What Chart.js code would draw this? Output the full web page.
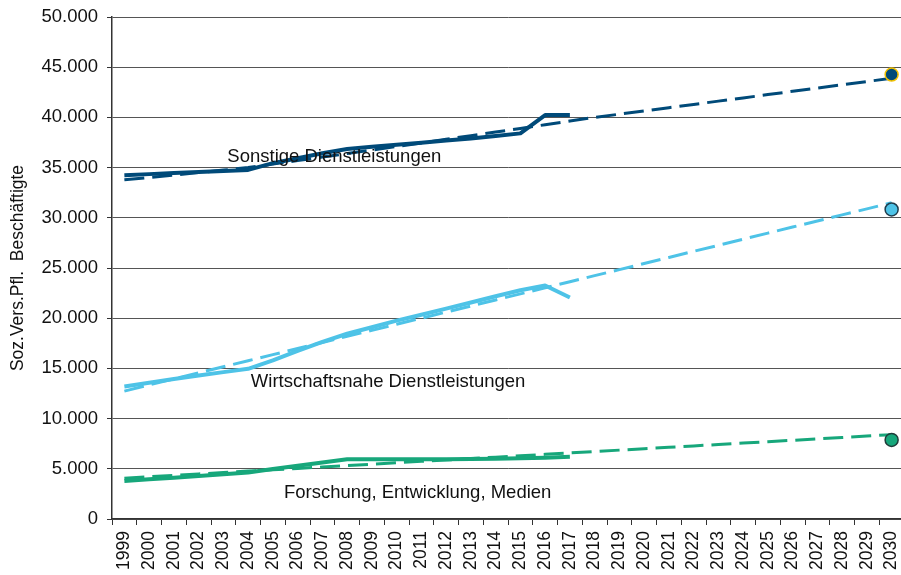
<!DOCTYPE html>
<html lang="de">
<head>
<meta charset="utf-8">
<title>Soz.Vers.Pfl. Beschäftigte</title>
<script src="https://cdn.jsdelivr.net/npm/chart.js@4/dist/chart.umd.min.js"></script>
<style>
  html, body { margin: 0; padding: 0; background: #fff; overflow: hidden; }
  #chart { display: block; }
</style>
</head>
<body>
<canvas id="chart" width="912" height="575"></canvas>
<script>
const years = ['1999', '2000', '2001', '2002', '2003', '2004', '2005', '2006', '2007', '2008',
    '2009', '2010', '2011', '2012', '2013', '2014', '2015', '2016', '2017', '2018', '2019',
    '2020', '2021', '2022', '2023', '2024', '2025', '2026', '2027', '2028', '2029', '2030'];

// Ist-Werte 1999-2017
const sonstigeIst = [34250, 34350, 34450, 34550, 34650, 34770, 35440, 35930, 36430, 36850,
    37080, 37280, 37480, 37710, 37910, 38140, 38410, 40230, 40230];
const wirtschaftIst = [13200, 13570, 13940, 14300, 14630, 14960, 15800, 16750, 17650, 18450,
    19100, 19760, 20350, 20950, 21560, 22190, 22780, 23250, 22060];
const forschungIst = [3780, 3950, 4120, 4290, 4460, 4630, 4970, 5300, 5630, 5960,
    5950, 5940, 5940, 5950, 5970, 6000, 6040, 6090, 6190];

// Trend 1999-2030 (gestrichelt)
const sonstigeTrend = [33780, 34020, 34260, 34500, 34750, 35000, 35350, 35700, 36050, 36400,
    36750, 37100, 37460, 37820, 38180, 38540, 38900, 39270, 39640, 40000, 40320, 40640,
    40970, 41290, 41620, 41940, 42270, 42600, 42920, 43250, 43570, 43900];
const wirtschaftTrend = [12740, 13350, 13950, 14560, 15160, 15770, 16370, 16980, 17580, 18190,
    18790, 19400, 20000, 20610, 21210, 21820, 22420, 23030, 23630, 24240, 24840, 25450,
    26050, 26660, 27260, 27870, 28470, 29080, 29680, 30290, 30890, 31500];
const forschungTrend = [4070, 4210, 4350, 4490, 4630, 4770, 4900, 5040, 5180, 5320,
    5460, 5600, 5740, 5880, 6020, 6160, 6300, 6440, 6580, 6720, 6860, 7000,
    7140, 7280, 7420, 7560, 7700, 7840, 7980, 8120, 8260, 8400];

// Zielwerte 2030
const sonstigeZiel = 44270;
const wirtschaftZiel = 30830;
const forschungZiel = 7880;

const seriesNames = ['Sonstige Dienstleistungen', 'Wirtschaftsnahe Dienstleistungen', 'Forschung, Entwicklung, Medien'];
const yTicks = [0, 5000, 10000, 15000, 20000, 25000, 30000, 35000, 40000, 45000, 50000];

document.addEventListener('DOMContentLoaded', () => {
    const navy = '#004a79';
    const sky = '#4ec3e7';
    const green = '#17a77b';
    const fontFamily = '"Liberation Sans", Arial, sans-serif';

    const fmt = (v) => String(v).replace(/\B(?=(\d{3})+(?!\d))/g, '.');
    const onlyLast = (v) => years.map((y, i) => (i === years.length - 1 ? v : null));

    const solid = (data, color) => ({
        data, borderColor: color, borderWidth: 4, pointRadius: 0, tension: 0,
        borderJoinStyle: 'round', fill: false
    });
    const dashed = (data, color) => ({
        data, borderColor: color, borderWidth: 3, borderDash: [20, 8], pointRadius: 0, tension: 0, fill: false
    });
    const marker = (v, fill, edge) => ({
        data: onlyLast(v), showLine: false, pointRadius: 6.5, pointBackgroundColor: fill,
        pointBorderColor: edge, pointBorderWidth: 1.5
    });

    // Beschriftungen an den Linien: [Jahr-Index (links), Wert (Grundlinie)]
    const lineLabels = [
        { text: seriesNames[0], at: [4.16, 35600] },
        { text: seriesNames[1], at: [5.11, 13170] },
        { text: seriesNames[2], at: [6.45, 2120] }
    ];

    const lineLabelPlugin = {
        id: 'lineLabels',
        afterDatasetsDraw(chart) {
            const { ctx, scales: { x, y } } = chart;
            ctx.save();
            ctx.font = '18.5px ' + fontFamily;
            ctx.fillStyle = '#111';
            ctx.textAlign = 'left';
            ctx.textBaseline = 'alphabetic';
            lineLabels.forEach(l => {
                ctx.fillText(l.text, x.getPixelForValue(l.at[0]), y.getPixelForValue(l.at[1]));
            });
            ctx.restore();
        }
    };

    new Chart(document.getElementById('chart'), {
        type: 'line',
        data: {
            labels: years,
            datasets: [
                marker(sonstigeZiel, navy, '#f2c200'),
                marker(wirtschaftZiel, sky, '#1f3d4d'),
                marker(forschungZiel, green, '#1f3d3a'),
                solid(sonstigeIst, navy),
                solid(wirtschaftIst, sky),
                solid(forschungIst, green),
                dashed(sonstigeTrend, navy),
                dashed(wirtschaftTrend, sky),
                dashed(forschungTrend, green)
            ]
        },
        options: {
            responsive: false,
            animation: false,
            devicePixelRatio: 1,
            layout: { padding: { top: 17, right: 3, left: 0, bottom: 0 } },
            plugins: { legend: { display: false }, tooltip: { enabled: false } },
            scales: {
                x: {
                    offset: true,
                    grid: {
                        offset: true, drawOnChartArea: false, drawTicks: true,
                        tickLength: 6, tickColor: '#333', tickWidth: 1
                    },
                    border: { color: '#333', width: 1.5 },
                    ticks: {
                        autoSkip: false, maxRotation: 90, minRotation: 90, padding: 6,
                        color: '#111', font: { family: fontFamily, size: 17.5 }
                    },
                    afterFit: (scale) => {
                        scale.height = 56;
                        scale.paddingLeft = 0;
                        scale.paddingRight = 0;
                    }
                },
                y: {
                    min: 0,
                    max: 50000,
                    afterBuildTicks: (scale) => { scale.ticks = yTicks.map(v => ({ value: v })); },
                    grid: {
                        color: '#555', lineWidth: 1, borderDash: [1, 1],
                        tickLength: 5, tickColor: '#333', tickBorderDash: [], tickWidth: 1
                    },
                    border: { color: '#333', width: 1.5 },
                    ticks: {
                        padding: 9, color: '#111', font: { family: fontFamily, size: 18.5 },
                        callback: (v) => fmt(v)
                    },
                    title: {
                        display: true, text: 'Soz.Vers.Pfl.  Beschäftigte', color: '#111',
                        font: { family: fontFamily, size: 17.5 }, padding: { top: 8, bottom: 0 }
                    },
                    afterFit: (scale) => {
                        scale.width = 112;
                        scale.paddingTop = 0;
                        scale.paddingBottom = 0;
                    }
                }
            }
        },
        plugins: [lineLabelPlugin]
    });
});
</script>
</body>
</html>
